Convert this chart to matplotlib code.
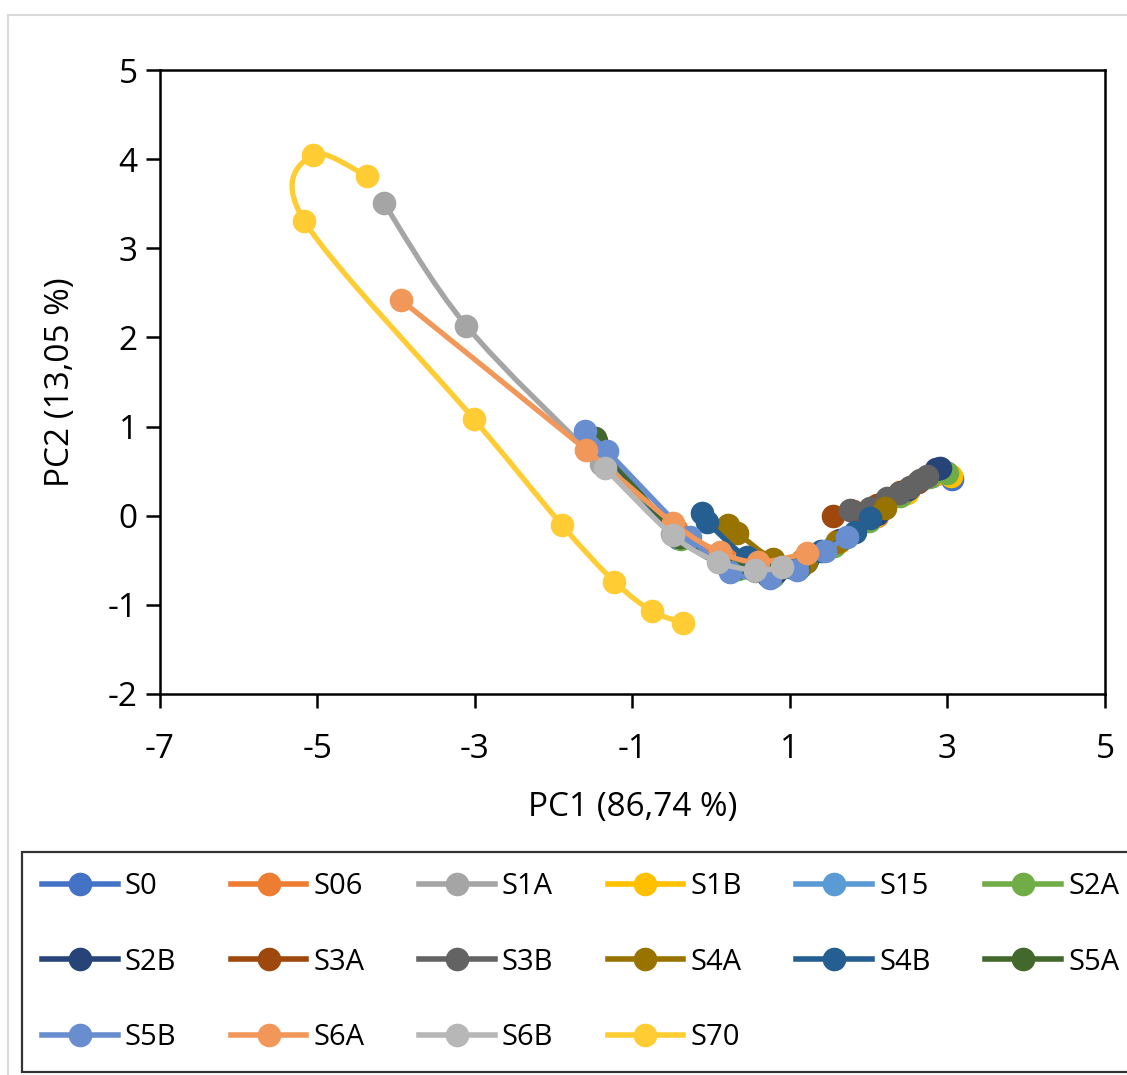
import matplotlib.pyplot as plt
from matplotlib.path import Path
from matplotlib.patches import PathPatch, Rectangle
from matplotlib.lines import Line2D
import numpy as np

plt.rcParams['font.family'] = ['Open Sans', 'DejaVu Sans']
plt.rcParams['axes.unicode_minus'] = False

names = ["S0", "S06", "S1A", "S1B", "S15", "S2A",
         "S2B", "S3A", "S3B", "S4A", "S4B", "S5A",
         "S5B", "S6A", "S6B", "S70"]
colors = ["#4472C4", "#ED7D31", "#A5A5A5", "#FFC000", "#5B9BD5", "#70AD47",
          "#264478", "#9E480E", "#636363", "#997300", "#255E91", "#43682B",
          "#698ED0", "#F1975A", "#B7B7B7", "#FFCD33"]

s0_x = [-1.50, -0.42, 0.35, 0.80, 1.20, 1.60, 2.05, 2.45, 2.80, 3.06]
s0_y = [0.82, -0.25, -0.58, -0.64, -0.52, -0.30, -0.02, 0.25, 0.45, 0.41]
s06_x = [-1.55, -0.45, 0.20, 0.70, 1.15, 1.60, 2.10, 2.50, 2.85, 3.00]
s06_y = [0.78, -0.15, -0.50, -0.60, -0.50, -0.28, 0.00, 0.28, 0.47, 0.48]
s1a_x = [-4.16, -3.11, -1.40, -0.50, 0.10, 0.55, 0.90]
s1a_y = [3.51, 2.13, 0.58, -0.20, -0.52, -0.62, -0.57]
s1b_x = [-1.52, -0.44, 0.30, 0.78, 1.18, 1.62, 2.08, 2.48, 2.82, 3.05]
s1b_y = [0.84, -0.22, -0.56, -0.63, -0.51, -0.29, 0.00, 0.26, 0.46, 0.44]
s15_x = [-1.48, -0.40, 0.32, 0.76, 1.16, 1.58, 2.02, 2.42, 2.78, 2.97]
s15_y = [0.80, -0.24, -0.57, -0.65, -0.53, -0.31, -0.03, 0.24, 0.44, 0.49]
s2a_x = [-1.50, -0.38, 0.34, 0.78, 1.14, 1.56, 2.00, 2.40, 2.76, 3.00]
s2a_y = [0.86, -0.26, -0.60, -0.68, -0.56, -0.34, -0.06, 0.22, 0.43, 0.48]
s2b_x = [-1.46, -0.40, 0.36, 0.82, 1.22, 1.64, 2.10, 2.50, 2.85, 2.90]
s2b_y = [0.84, -0.24, -0.58, -0.63, -0.50, -0.27, 0.02, 0.30, 0.52, 0.54]
s3a_x = [1.55, 1.80, 2.10, 2.40, 2.62]
s3a_y = [0.00, 0.05, 0.12, 0.27, 0.38]
s3b_x = [1.76, 2.02, 2.23, 2.38, 2.52, 2.65, 2.74]
s3b_y = [0.06, 0.09, 0.20, 0.26, 0.32, 0.40, 0.45]
s4a_x = [0.21, 0.33, 0.78, 1.20, 1.60, 2.21]
s4a_y = [-0.10, -0.19, -0.48, -0.52, -0.30, 0.09]
s4b_x = [-0.12, -0.05, 0.45, 1.00, 1.40, 1.83, 2.02]
s4b_y = [0.03, -0.07, -0.46, -0.58, -0.40, -0.18, -0.03]
s5a_x = [-1.47, -0.40, 0.28, 0.72, 1.10]
s5a_y = [0.87, -0.24, -0.60, -0.68, -0.60]
s5b_x = [-1.60, -1.33, -0.27, 0.24, 0.75, 1.09, 1.44, 1.72]
s5b_y = [0.95, 0.73, -0.24, -0.63, -0.70, -0.61, -0.40, -0.24]
s6a_x = [-3.94, -1.59, -0.49, 0.11, 0.60, 1.22]
s6a_y = [2.42, 0.74, -0.08, -0.41, -0.52, -0.42]
s6b_x = [-1.35, -0.49, 0.09, 0.56, 0.90]
s6b_y = [0.54, -0.22, -0.52, -0.61, -0.58]
s70_x = [-4.37, -5.06, -5.17, -3.01, -1.90, -1.23, -0.75, -0.36]
s70_y = [3.81, 4.05, 3.31, 1.08, -0.10, -0.74, -1.07, -1.20]

series = [(s0_x, s0_y), (s06_x, s06_y), (s1a_x, s1a_y), (s1b_x, s1b_y),
          (s15_x, s15_y), (s2a_x, s2a_y), (s2b_x, s2b_y), (s3a_x, s3a_y),
          (s3b_x, s3b_y), (s4a_x, s4a_y), (s4b_x, s4b_y), (s5a_x, s5a_y),
          (s5b_x, s5b_y), (s6a_x, s6a_y), (s6b_x, s6b_y), (s70_x, s70_y)]


def smooth_path(xs, ys):
    # Excel-like smoothed line: Catmull-Rom tangents as cubic Bezier segments
    p = np.column_stack([xs, ys]).astype(float)
    n = len(p)
    verts = [p[0]]
    codes = [Path.MOVETO]
    for i in range(n - 1):
        p_prev = p[i - 1] if i > 0 else p[i]
        p_next2 = p[i + 2] if i + 2 < n else p[i + 1]
        c1 = p[i] + (p[i + 1] - p_prev) / 6.0
        c2 = p[i + 1] - (p_next2 - p[i]) / 6.0
        verts += [c1, c2, p[i + 1]]
        codes += [Path.CURVE4] * 3
    return Path(verts, codes)


fig = plt.figure(figsize=(11.27, 10.75), dpi=100)
fig.patches.append(Rectangle((8 / 1127, -0.05), 1.2, 1.05 - 15 / 1075,
                             transform=fig.transFigure, fill=False,
                             edgecolor="#D9D9D9", linewidth=1.5))

ax = fig.add_axes([160 / 1127, 1 - 694 / 1075, 945 / 1127, 624 / 1075])

handles = []
for k, ((xs, ys), name, col) in enumerate(zip(series, names, colors)):
    patch = PathPatch(smooth_path(xs, ys), facecolor="none", edgecolor=col,
                      linewidth=3.8, zorder=2 + 2 * k, capstyle="round")
    ax.add_patch(patch)
    ax.plot(xs, ys, linestyle="none", marker="o", markersize=16,
            color=col, zorder=3 + 2 * k)
    handles.append(Line2D([], [], color=col, linewidth=4, marker="o",
                          markersize=16, label=name))

ax.set_xlim(-7, 5)
ax.set_ylim(-2, 5)
ax.set_xticks([-7, -5, -3, -1, 1, 3, 5])
ax.set_yticks(range(-2, 6))
for sp in ax.spines.values():
    sp.set_linewidth(1.8)
    sp.set_color("black")
ax.tick_params(direction="out", length=10, width=1.8, labelsize=24)
ax.tick_params(axis="x", pad=18)
ax.tick_params(axis="y", pad=6)
ax.set_xlabel("PC1 (86,74 %)", fontsize=24, labelpad=18)
ax.set_ylabel("PC2 (13,05 %)", fontsize=24, labelpad=22)

# legend fills column by column, so reorder to read row by row
ncol = 6
nrow = 3
order = []
for c in range(ncol):
    for r in range(nrow):
        i = r * ncol + c
        if i < len(handles):
            order.append(i)
leg = fig.legend(handles=[handles[i] for i in order], ncol=ncol, loc="lower left",
                 bbox_to_anchor=(22 / 1127, 3 / 1075, 1117 / 1127, 230 / 1075),
                 mode="expand", borderaxespad=0, fontsize=21,
                 handlelength=2.6, handletextpad=0.25, labelspacing=1.6,
                 borderpad=0.68, fancybox=False, frameon=True)
leg.get_frame().set_edgecolor("black")
leg.get_frame().set_linewidth(1.6)

fig.savefig("out.png", dpi=100)
